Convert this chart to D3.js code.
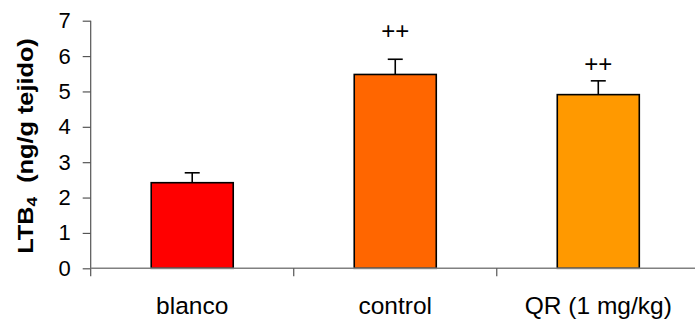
<!DOCTYPE html>
<html>
<head>
<meta charset="utf-8">
<script src="https://cdn.jsdelivr.net/npm/d3@7"></script>
<style>
  html, body { margin: 0; padding: 0; background: #fff; }
  svg { display: block; }
  text { font-family: "Liberation Sans", Arial, sans-serif; fill: #000; }
</style>
</head>
<body>
<svg id="chart" width="695" height="327"></svg>
<script>
// ---- data ----
const categories = ["blanco", "control", "QR (1 mg/kg)"];
const values = [2.42, 5.48, 4.91];
const errors = [0.28, 0.43, 0.39];
const barColors = ["#FF0000", "#FF6600", "#FF9900"];
const annotations = ["", "++", "++"];
const annotationY = [null, 6.72, 5.78];
const yTicks = [0, 1, 2, 3, 4, 5, 6, 7];

// ---- layout ----
const W = 695, H = 327;
const x0 = 90.7, x1 = 699.8, yBottom = 268.3, yTop = 20.7;
const svg = d3.select("#chart");

const x = d3.scaleBand().domain(categories).range([x0, x1])
  .paddingInner(0.596).paddingOuter(0.298);
const y = d3.scaleLinear().domain([0, 7]).range([yBottom, yTop]);

// bars
svg.append("g").selectAll("rect").data(categories).join("rect")
  .attr("x", d => x(d))
  .attr("y", (d, i) => y(values[i]))
  .attr("width", x.bandwidth())
  .attr("height", (d, i) => y(0) - y(values[i]))
  .attr("fill", (d, i) => barColors[i])
  .attr("stroke", "#000")
  .attr("stroke-width", 1.6);

// error bars
const eg = svg.append("g").attr("stroke", "#000").attr("stroke-width", 1.6);
categories.forEach((c, i) => {
  const cx = x(c) + x.bandwidth() / 2;
  eg.append("line").attr("x1", cx).attr("x2", cx)
    .attr("y1", y(values[i])).attr("y2", y(values[i] + errors[i]));
  eg.append("line").attr("x1", cx - 7.5).attr("x2", cx + 7.5)
    .attr("y1", y(values[i] + errors[i])).attr("y2", y(values[i] + errors[i]));
});

// annotations
svg.append("g").selectAll("text").data(categories).join("text")
  .attr("x", d => x(d) + x.bandwidth() / 2)
  .attr("y", (d, i) => annotationY[i] == null ? 0 : y(annotationY[i]))
  .attr("dy", "0.35em")
  .attr("text-anchor", "middle")
  .style("font-size", "24px")
  .text((d, i) => annotations[i]);

// y axis
const yAxis = d3.axisLeft(y).tickValues(yTicks).tickSize(8).tickPadding(12)
  .tickFormat(d3.format("d"));
const ya = svg.append("g").attr("transform", `translate(${x0},0)`).call(yAxis);
ya.select(".domain").remove();
ya.selectAll(".tick line").attr("stroke", "#555").attr("stroke-width", 1.2);
ya.selectAll(".tick text").style("font-size", "22px").style("font-family", "'Liberation Sans', Arial, sans-serif");
svg.append("line").attr("x1", x0).attr("x2", x0).attr("y1", y(7)).attr("y2", yBottom + 8)
  .attr("stroke", "#555").attr("stroke-width", 1.2);

// x axis
svg.append("line").attr("x1", x0).attr("x2", W).attr("y1", yBottom).attr("y2", yBottom)
  .attr("stroke", "#808080").attr("stroke-width", 1.6);
const bounds = categories.slice(1).map(c => x(c) - x.step() * x.paddingInner() / 2);
svg.append("g").selectAll("line").data(bounds).join("line")
  .attr("x1", d => d).attr("x2", d => d)
  .attr("y1", yBottom).attr("y2", yBottom + 8)
  .attr("stroke", "#555").attr("stroke-width", 1.2);
svg.append("g").selectAll("text").data(categories).join("text")
  .attr("x", d => x(d) + x.bandwidth() / 2)
  .attr("y", 313.5)
  .attr("text-anchor", "middle")
  .style("font-size", "24.5px")
  .text(d => d);

// y label
const yl = svg.append("text")
  .attr("transform", "translate(33,146) rotate(-90) scale(1.15,1)")
  .attr("text-anchor", "middle")
  .style("font-size", "22px")
  .style("font-weight", "bold");
yl.append("tspan").text("LTB");
yl.append("tspan").attr("dy", "0.25em").style("font-size", "15px").text("4");
yl.append("tspan").attr("dy", "-0.17em").text("\u00a0 (ng/g tejido)");
</script>
</body>
</html>
